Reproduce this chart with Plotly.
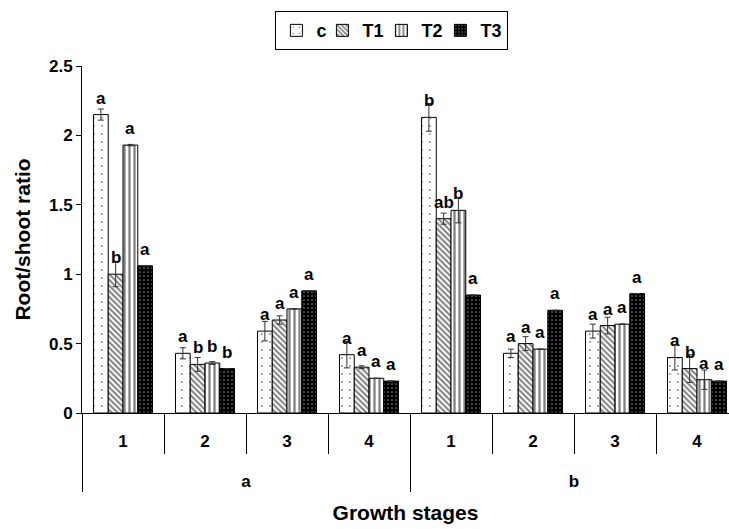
import plotly.graph_objects as go

# Groups (a, b) and growth stages 1-4
groups = ["a", "a", "a", "a", "b", "b", "b", "b"]
stages = ["1", "2", "3", "4", "1", "2", "3", "4"]

treatments = ["c", "T1", "T2", "T3"]

# Root/shoot ratio means
c_vals = [2.15, 0.43, 0.59, 0.42, 2.13, 0.43, 0.59, 0.40]
t1_vals = [1.00, 0.35, 0.67, 0.33, 1.40, 0.50, 0.63, 0.32]
t2_vals = [1.93, 0.36, 0.75, 0.25, 1.46, 0.46, 0.64, 0.24]
t3_vals = [1.06, 0.32, 0.88, 0.23, 0.85, 0.74, 0.86, 0.23]

# Standard errors
c_err = [0.04, 0.04, 0.07, 0.095, 0.10, 0.03, 0.05, 0.09]
t1_err = [0.09, 0.05, 0.03, 0.01, 0.04, 0.05, 0.06, 0.10]
t2_err = [0.005, 0.01, 0.0, 0.0, 0.09, 0.0, 0.0, 0.07]
t3_err = [0, 0, 0, 0, 0, 0, 0, 0]

# Significance letters
c_sig = ["a", "a", "a", "a", "b", "a", "a", "a"]
t1_sig = ["b", "b", "a", "a", "ab", "a", "a", "b"]
t2_sig = ["a", "b", "a", "a", "b", "a", "a", "a"]
t3_sig = ["a", "b", "a", "a", "a", "a", "a", "a"]

y_ticks = [0, 0.5, 1, 1.5, 2, 2.5]
y_tick_text = ["0", "0.5", "1", "1.5", "2", "2.5"]

patterns = [
    dict(shape=".", fgcolor="#333333", bgcolor="white", size=8, solidity=0.06),
    dict(shape="\\", fgcolor="black", bgcolor="white", size=4, solidity=0.5),
    dict(shape="|", fgcolor="black", bgcolor="white", size=5, solidity=0.45),
    dict(shape=".", fgcolor="white", bgcolor="black", size=4, solidity=0.15),
]
fills = ["white", "white", "white", "black"]
# Compact legend entries (the last one keeps its natural width)
legend_widths = [1, 14, 14, None]

series = [c_vals, t1_vals, t2_vals, t3_vals]
errors = [c_err, t1_err, t2_err, t3_err]
letters = [c_sig, t1_sig, t2_sig, t3_sig]

BARGAP = 0.28
FONT = "Liberation Sans, Arial, sans-serif"
X_RANGE = [-0.5, 7.39]

# Positions of the stage slots, their boundaries and the group layout
x_idx = list(range(len(stages)))
stage_bounds = [i - 0.5 for i in range(len(stages) + 1)]
group_names = list(dict.fromkeys(groups))
group_centers = [sum(i for i, g in enumerate(groups) if g == name) / groups.count(name)
                 for name in group_names]
group_bounds = [-0.5] + [i + 0.5 for i in range(len(groups) - 1) if groups[i] != groups[i + 1]] \
    + [len(groups) - 0.5]

fig = go.Figure()
for name, vals, err, pat, fill, lw in zip(treatments, series, errors, patterns, fills,
                                          legend_widths):
    fig.add_trace(go.Bar(
        name=name,
        x=x_idx,
        y=vals,
        legendwidth=lw,
        error_y=dict(type="data", array=err, visible=True, color="#333333",
                     thickness=1, width=3),
        marker=dict(color=fill, pattern=pat, line=dict(color="black", width=1)),
    ))

# Empty trace that carries the group-level axis
fig.add_trace(go.Scatter(x=[], y=[], xaxis="x2", yaxis="y", showlegend=False,
                         hoverinfo="skip"))

# Letters above each bar, centred on the bar's slot within its stage
n = len(treatments)
slot = (1 - BARGAP) / n
for k, (vals, sig) in enumerate(zip(series, letters)):
    offset = -(1 - BARGAP) / 2 + slot * (k + 0.5)
    for i, (v, s) in enumerate(zip(vals, sig)):
        fig.add_annotation(
            x=x_idx[i] + offset, y=v, xref="x", yref="y",
            text=s, showarrow=False, yanchor="bottom", yshift=5,
            font=dict(family=FONT, size=17, color="black", weight="bold"),
        )

fig.update_layout(
    width=729,
    height=529,
    margin=dict(l=82, r=0, t=66, b=116),
    paper_bgcolor="white",
    plot_bgcolor="white",
    barmode="group",
    bargap=BARGAP,
    bargroupgap=0,
    font=dict(family=FONT, color="black", weight="bold"),
    showlegend=True,
    legend=dict(
        orientation="h",
        x=0.479,
        xanchor="center",
        y=1.158,
        yanchor="top",
        bordercolor="black",
        borderwidth=1,
        itemwidth=30,
        font=dict(family=FONT, size=18, color="black", weight="bold"),
        traceorder="normal",
    ),
    xaxis=dict(
        range=X_RANGE,
        tickmode="array",
        tickvals=x_idx,
        ticktext=stages,
        ticks="",
        showline=True,
        linecolor="black",
        linewidth=1,
        ticklabelstandoff=13,
        minor=dict(tickmode="array", tickvals=stage_bounds, ticks="outside",
                   ticklen=40, tickcolor="black", tickwidth=1, showgrid=False),
        tickfont=dict(family=FONT, size=17, color="black", weight="bold"),
        showgrid=False,
        zeroline=False,
    ),
    xaxis2=dict(
        overlaying="x",
        anchor="y",
        side="bottom",
        range=X_RANGE,
        tickmode="array",
        tickvals=group_centers,
        ticktext=group_names,
        ticks="",
        showline=False,
        ticklabelstandoff=56,
        minor=dict(tickmode="array", tickvals=group_bounds, ticks="outside",
                   ticklen=78, tickcolor="black", tickwidth=1, showgrid=False),
        tickfont=dict(family=FONT, size=17, color="black", weight="bold"),
        title=dict(text="Growth stages",
                   font=dict(family=FONT, size=21, color="black", weight="bold")),
        showgrid=False,
        zeroline=False,
    ),
    yaxis=dict(
        range=[0, 2.5],
        tickvals=y_ticks,
        ticktext=y_tick_text,
        showline=True,
        linecolor="black",
        linewidth=1,
        ticks="outside",
        ticklen=5,
        tickcolor="black",
        tickfont=dict(family=FONT, size=17, color="black", weight="bold"),
        title=dict(text="Root/shoot ratio", standoff=12,
                   font=dict(family=FONT, size=21, color="black", weight="bold")),
        showgrid=False,
        zeroline=False,
    ),
)

fig.write_html("out.html")
